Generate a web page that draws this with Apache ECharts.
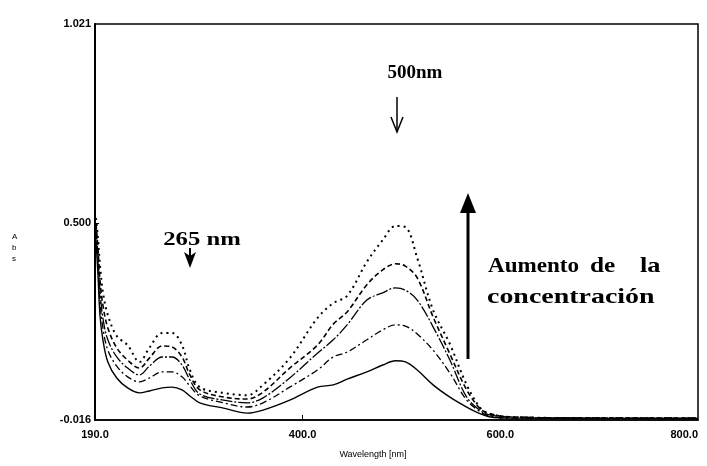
<!DOCTYPE html>
<html>
<head>
<meta charset="utf-8">
<script src="https://cdn.jsdelivr.net/npm/echarts@6/dist/echarts.min.js"></script>
<style>
html,body{margin:0;padding:0;background:#fff;}
#c{width:707px;height:466px;}
</style>
</head>
<body>
<div id="c"></div>
<script>
// Wavelength samples (nm)
const wavelength = [191,193,195,198,203,212,223,235,245,258,268,278,286,296,320,344,360,387,415,431,445,465,481,494,504,516,532,549,566,580,590,610,700,800];
// Absorbance, lowest concentration -> highest
const absSolid   = [0.455,0.364,0.259,0.194,0.136,0.094,0.068,0.055,0.060,0.068,0.070,0.063,0.047,0.029,0.015,0.002,0.010,0.036,0.070,0.076,0.091,0.110,0.128,0.139,0.136,0.115,0.076,0.044,0.018,0.000,-0.008,-0.011,-0.012,-0.013];
const absDashDot = [0.476,0.398,0.298,0.225,0.167,0.125,0.097,0.084,0.094,0.110,0.110,0.097,0.073,0.047,0.029,0.018,0.029,0.070,0.115,0.149,0.162,0.194,0.220,0.233,0.230,0.209,0.167,0.107,0.036,0.005,-0.006,-0.011,-0.011,-0.012];
const absLongDash= [0.487,0.416,0.324,0.251,0.194,0.149,0.120,0.102,0.125,0.149,0.149,0.128,0.089,0.052,0.036,0.029,0.042,0.094,0.159,0.194,0.233,0.298,0.317,0.330,0.324,0.298,0.228,0.141,0.044,0.008,-0.003,-0.008,-0.011,-0.011];
const absDashed  = [0.497,0.434,0.351,0.285,0.225,0.173,0.141,0.120,0.146,0.178,0.175,0.149,0.102,0.063,0.044,0.039,0.057,0.120,0.180,0.235,0.267,0.338,0.377,0.393,0.387,0.356,0.254,0.157,0.063,0.013,0.000,-0.008,-0.011,-0.011];
const absDotted  = [0.513,0.461,0.390,0.319,0.259,0.204,0.180,0.136,0.173,0.212,0.212,0.180,0.115,0.070,0.055,0.049,0.076,0.146,0.251,0.290,0.309,0.398,0.455,0.492,0.489,0.408,0.272,0.183,0.076,0.015,0.000,-0.008,-0.011,-0.011];
// Axis ticks
const xTicks = [190,400,600,800];
const yTicks = [-0.016,0.5,1.021];

const chart = echarts.init(document.getElementById('c'), null, {renderer:'canvas'});
const pair = arr => wavelength.map((w,i)=>[w,arr[i]]);
const mk = (name, arr, type, width) => ({
  name, type:'line', data: pair(arr), showSymbol:false, smooth:0.35,
  lineStyle:{color:'#000', width, type}, animation:false, silent:true
});
const tickFont = {color:'#000', fontFamily:'"Liberation Sans Narrow", "Liberation Sans", Arial', fontSize:11, fontWeight:'bold'};
const serif = '"Liberation Serif", "Times New Roman", serif';

chart.setOption({
  backgroundColor:'#fff',
  animation:false,
  grid:{left:95, right:9, top:24, bottom:46, show:true, borderColor:'#000', borderWidth:1.5},
  xAxis:{
    type:'value', min:190, max:800,
    axisLine:{show:true, onZero:false, lineStyle:{color:'#000', width:1.5}},
    axisTick:{show:true, inside:true, length:5, customValues:[400,600], lineStyle:{color:'#000'}},
    splitLine:{show:false},
    axisLabel:Object.assign({customValues:xTicks, margin:9, formatter:v=>v.toFixed(1), alignMaxLabel:'right'}, tickFont)
  },
  yAxis:{
    type:'value', min:-0.016, max:1.021,
    axisLine:{show:true, onZero:false, lineStyle:{color:'#000', width:2}},
    axisTick:{show:true, inside:true, length:4, customValues:[0.5], lineStyle:{color:'#000'}},
    splitLine:{show:false},
    axisLabel:Object.assign({customValues:yTicks, margin:4, formatter:v=>v.toFixed(3)}, tickFont)
  },
  series:[
    mk('c1', absSolid, 'solid', 1.4),
    mk('c2', absDashDot, [7,3,2,3], 1.3),
    mk('c3', absLongDash, [12,2,2,2], 1.3),
    mk('c4', absDashed, [5,3], 1.6),
    mk('c5', absDotted, [2,4], 2)
  ],
  graphic:[
    {type:'text', x:12, y:231, style:{text:'A\nb\ns', fill:'#000', font:'8px "Liberation Sans"', lineHeight:11}},
    {type:'text', x:373, y:455, style:{text:'Wavelength [nm]', fill:'#000', font:'9px "Liberation Sans Narrow", "Liberation Sans"', align:'center', verticalAlign:'middle'}},
    {type:'text', x:415, y:73, style:{text:'500nm', fill:'#000', font:'bold 19px '+serif, align:'center', verticalAlign:'middle'}},
    {type:'text', x:202, y:240, scaleX:1.3, style:{text:'265 nm', fill:'#000', font:'bold 19px '+serif, align:'center', verticalAlign:'middle'}},
    {type:'text', x:488, y:266, scaleX:1.05, style:{text:'Aumento', fill:'#000', font:'bold 22px '+serif, verticalAlign:'middle'}},
    {type:'text', x:590, y:266, scaleX:1.15, style:{text:'de', fill:'#000', font:'bold 22px '+serif, verticalAlign:'middle'}},
    {type:'text', x:640, y:266, scaleX:1.2, style:{text:'la', fill:'#000', font:'bold 22px '+serif, verticalAlign:'middle'}},
    {type:'text', x:487, y:297, scaleX:1.27, style:{text:'concentración', fill:'#000', font:'bold 22px '+serif, verticalAlign:'middle'}},
    // arrow 500 nm
    {type:'line', shape:{x1:397, y1:97, x2:397, y2:132}, style:{stroke:'#000', lineWidth:1.5}},
    {type:'polyline', shape:{points:[[391,117],[397,132],[403,117]]}, style:{stroke:'#000', fill:null, lineWidth:1.5}},
    // arrow 265 nm
    {type:'line', shape:{x1:190, y1:248, x2:190, y2:262}, style:{stroke:'#000', lineWidth:2}},
    {type:'polygon', shape:{points:[[184,252],[190,256],[196,252],[190,268]]}, style:{fill:'#000'}},
    // big arrow
    {type:'line', shape:{x1:468, y1:359, x2:468, y2:208}, style:{stroke:'#000', lineWidth:3}},
    {type:'polygon', shape:{points:[[460,213],[468,193],[476,213]]}, style:{fill:'#000'}}
  ]
});
</script>
</body>
</html>
